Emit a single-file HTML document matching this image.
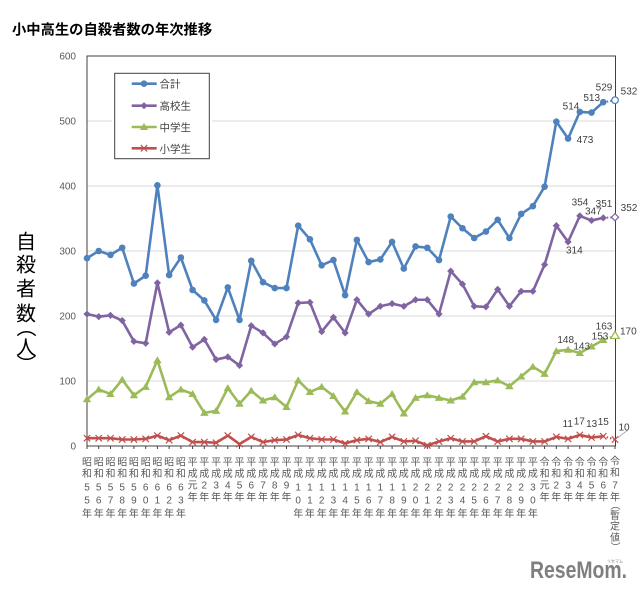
<!DOCTYPE html>
<html><head><meta charset="utf-8">
<style>
html,body{margin:0;padding:0;background:#fff}
#w{position:relative;width:640px;height:593px;overflow:hidden}
svg{display:block}
text{font-family:"Liberation Sans","Noto Sans CJK JP",sans-serif}
.xl{font-size:10px;fill:#595959;text-anchor:middle}
.yl{font-size:10px;fill:#595959;text-anchor:end}
.dl{font-size:10px;fill:#404040;text-anchor:middle}
.vp{position:absolute;writing-mode:vertical-rl;font-family:"Noto Sans CJK JP",sans-serif;text-align:center;white-space:nowrap}
</style></head><body>
<div id="w">
<svg width="640" height="593" viewBox="0 0 640 593" xmlns="http://www.w3.org/2000/svg">
<defs>
<marker id="mb" viewBox="-5 -5 10 10" markerWidth="10" markerHeight="10" refX="0" refY="0" markerUnits="userSpaceOnUse"><circle r="3.3" fill="#4f81bd"/></marker>
<marker id="mp" viewBox="-5 -5 10 10" markerWidth="10" markerHeight="10" refX="0" refY="0" markerUnits="userSpaceOnUse"><path d="M0,-3.6L3.6,0 0,3.6 -3.6,0Z" fill="#8064a2"/></marker>
<marker id="mg" viewBox="-5 -5 10 10" markerWidth="10" markerHeight="10" refX="0" refY="0" markerUnits="userSpaceOnUse"><path d="M0,-4L4.2,3 -4.2,3Z" fill="#9bbb59"/></marker>
<marker id="mr" viewBox="-5 -5 10 10" markerWidth="10" markerHeight="10" refX="0" refY="0" markerUnits="userSpaceOnUse"><path d="M-3.2,-3.2L3.2,3.2M-3.2,3.2L3.2,-3.2" stroke="#c0504d" stroke-width="1.2" fill="none"/></marker>
</defs>

<text x="12" y="34.5" font-size="14.3" font-weight="bold" fill="#000">小中高生の自殺者数の年次推移</text>

<!-- y axis title -->
<text x="26 26 26 26" y="248.6 271.6 295.6 320.6" font-size="20" text-anchor="middle" fill="#000">自殺者数</text>
<text x="26" y="354.3" font-size="20" text-anchor="middle" fill="#000">人</text>

<!-- gridlines -->
<g stroke="#d9d9d9" stroke-width="1">
<line x1="87" y1="121" x2="615.5" y2="121"/>
<line x1="87" y1="186" x2="615.5" y2="186"/>
<line x1="87" y1="251" x2="615.5" y2="251"/>
<line x1="87" y1="316" x2="615.5" y2="316"/>
<line x1="87" y1="381" x2="615.5" y2="381"/>
</g>
<rect x="87" y="56" width="528.5" height="390" fill="none" stroke="#404040" stroke-width="1"/>
<path d="M87,446v3M98.7,446v3M110.5,446v3M122.2,446v3M133.9,446v3M145.7,446v3M157.4,446v3M169.1,446v3M180.9,446v3M192.6,446v3M204.3,446v3M216.1,446v3M227.8,446v3M239.5,446v3M251.3,446v3M263,446v3M274.7,446v3M286.5,446v3M298.2,446v3M309.9,446v3M321.7,446v3M333.4,446v3M345.1,446v3M356.9,446v3M368.6,446v3M380.3,446v3M392.1,446v3M403.8,446v3M415.5,446v3M427.3,446v3M439,446v3M450.7,446v3M462.5,446v3M474.2,446v3M485.9,446v3M497.7,446v3M509.4,446v3M521.1,446v3M532.9,446v3M544.6,446v3M556.3,446v3M568.1,446v3M579.8,446v3M591.5,446v3M603.3,446v3M615,446v3" stroke="#404040" stroke-width="1"/>

<!-- y tick labels -->
<text class="yl" x="76" y="59.6">600</text>
<text class="yl" x="76" y="124.6">500</text>
<text class="yl" x="76" y="189.6">400</text>
<text class="yl" x="76" y="254.6">300</text>
<text class="yl" x="76" y="319.6">200</text>
<text class="yl" x="76" y="384.6">100</text>
<text class="yl" x="76" y="449.6">0</text>

<!-- series -->
<g fill="none" stroke-width="2.6" stroke-linejoin="round">
<polyline stroke="#4f81bd" marker-start="url(#mb)" marker-mid="url(#mb)" marker-end="url(#mb)" points="87,258.15 98.73,251 110.47,254.9 122.2,247.75 133.93,283.5 145.67,275.7 157.4,185.35 169.13,275.05 180.87,257.5 192.6,290 204.33,300.4 216.07,319.9 227.8,287.4 239.53,319.9 251.27,260.75 263,282.2 274.73,288.05 286.47,288.05 298.2,225.65 309.93,239.3 321.67,265.3 333.4,260.1 345.13,295.2 356.87,239.95 368.6,262.05 380.33,259.45 392.07,241.9 403.8,268.55 415.53,246.45 427.27,247.75 439,260.1 450.73,216.55 462.47,228.25 474.2,238 485.93,231.5 497.67,219.8 509.4,238 521.13,213.95 532.87,206.15 544.6,186.65 556.33,121.65 568.07,138.55 579.8,111.9 591.53,112.55 603.27,102.15"/>
<polyline stroke="#8064a2" marker-start="url(#mp)" marker-mid="url(#mp)" marker-end="url(#mp)" points="87,314.05 98.73,316.65 110.47,315.35 122.2,320.55 133.93,341.35 145.67,343.3 157.4,282.85 169.13,332.25 180.87,325.1 192.6,347.2 204.33,339.4 216.07,359.55 227.8,356.95 239.53,365.4 251.27,325.75 263,332.9 274.73,343.95 286.47,336.8 298.2,303 309.93,302.35 321.67,331.6 333.4,317.3 345.13,332.9 356.87,299.75 368.6,314.05 380.33,306.25 392.07,303.65 403.8,306.25 415.53,299.75 427.27,299.75 439,314.05 450.73,271.15 462.47,284.15 474.2,306.25 485.93,306.9 497.67,289.35 509.4,306.25 521.13,291.3 532.87,291.3 544.6,264.65 556.33,225.65 568.07,241.9 579.8,215.9 591.53,220.45 603.27,217.85"/>
<polyline stroke="#9bbb59" marker-start="url(#mg)" marker-mid="url(#mg)" marker-end="url(#mg)" points="87,399.2 98.73,389.45 110.47,394 122.2,379.7 133.93,395.3 145.67,386.85 157.4,360.2 169.13,397.25 180.87,389.45 192.6,394 204.33,412.85 216.07,410.9 227.8,388.15 239.53,403.75 251.27,390.75 263,400.5 274.73,397.25 286.47,407 298.2,380.35 309.93,392.05 321.67,386.85 333.4,395.95 345.13,411.55 356.87,392.05 368.6,401.15 380.33,403.75 392.07,394 403.8,413.5 415.53,397.9 427.27,395.3 439,397.9 450.73,400.5 462.47,396.6 474.2,382.3 485.93,382.3 497.67,380.35 509.4,386.2 521.13,376.45 532.87,366.7 544.6,373.85 556.33,351.1 568.07,349.8 579.8,353.05 591.53,346.55 603.27,340.05"/>
<polyline stroke="#c0504d" marker-start="url(#mr)" marker-mid="url(#mr)" marker-end="url(#mr)" points="87,438.2 98.73,438.2 110.47,438.2 122.2,439.5 133.93,439.5 145.67,438.85 157.4,435.6 169.13,440.15 180.87,435.6 192.6,442.1 204.33,442.1 216.07,442.75 227.8,435.6 239.53,444.05 251.27,436.9 263,442.1 274.73,440.15 286.47,439.5 298.2,434.95 309.93,438.2 321.67,439.5 333.4,439.5 345.13,443.4 356.87,440.15 368.6,438.85 380.33,442.1 392.07,436.9 403.8,441.45 415.53,440.8 427.27,445.35 439,441.45 450.73,438.2 462.47,441.45 474.2,441.45 485.93,436.25 497.67,441.45 509.4,438.85 521.13,438.85 532.87,441.45 544.6,441.45 556.33,436.9 568.07,438.85 579.8,434.95 591.53,437.55 603.27,436.25"/>
</g>
<!-- provisional (dotted) segments -->
<g fill="none" stroke-width="2" stroke-dasharray="1.5 2">
<line x1="603.27" y1="102.15" x2="615" y2="100.2" stroke="#4f81bd"/>
<line x1="603.27" y1="217.85" x2="615" y2="217.2" stroke="#8064a2"/>
<line x1="603.27" y1="340.05" x2="615" y2="335.5" stroke="#9bbb59"/>
<line x1="603.27" y1="436.25" x2="615" y2="439.5" stroke="#c0504d"/>
</g>
<circle cx="615" cy="100.2" r="3.3" fill="#fff" stroke="#4f81bd" stroke-width="1.3"/>
<path d="M615,213.6L618.6,217.2 615,220.8 611.4,217.2Z" fill="#fff" stroke="#8064a2" stroke-width="1.2"/>
<path d="M615,331.3L619.2,338.5 610.8,338.5Z" fill="#fff" stroke="#9bbb59" stroke-width="1.3"/>
<path d="M611.8,436.3L618.2,442.7M611.8,442.7L618.2,436.3" stroke="#c0504d" stroke-width="1.2"/>
<line x1="628" y1="430" x2="618" y2="437.5" stroke="#a6a6a6" stroke-width="0.8"/>

<!-- data labels -->
<text class="dl" x="571" y="109.3">514</text>
<text class="dl" x="585" y="142.9">473</text>
<text class="dl" x="591.7" y="100.9">513</text>
<text class="dl" x="604" y="90.3">529</text>
<text class="dl" x="629" y="94.3">532</text>
<text class="dl" x="580" y="205.3">354</text>
<text class="dl" x="574.3" y="253.6">314</text>
<text class="dl" x="593.3" y="214.3">347</text>
<text class="dl" x="604" y="206.9">351</text>
<text class="dl" x="629" y="210.9">352</text>
<text class="dl" x="565.7" y="342.9">148</text>
<text class="dl" x="581.7" y="349.6">143</text>
<text class="dl" x="600" y="339.3">153</text>
<text class="dl" x="604" y="329.3">163</text>
<text class="dl" x="628.3" y="334.3">170</text>
<text class="dl" x="567.7" y="426.9">11</text>
<text class="dl" x="579.3" y="424.3">17</text>
<text class="dl" x="591.7" y="426.9">13</text>
<text class="dl" x="603.3" y="424.9">15</text>
<text class="dl" x="624" y="430.3">10</text>

<!-- legend -->
<rect x="111.7" y="70.5" width="100.3" height="91" fill="#fff"/>
<rect x="114.7" y="73.3" width="94.6" height="85.4" fill="#fff" stroke="#404040" stroke-width="1"/>
<g stroke-width="2.6">
<line x1="131.7" y1="83.7" x2="156.7" y2="83.7" stroke="#4f81bd"/>
<line x1="131.7" y1="105.7" x2="156.7" y2="105.7" stroke="#8064a2"/>
<line x1="131.7" y1="127" x2="156.7" y2="127" stroke="#9bbb59"/>
<line x1="131.7" y1="148.3" x2="156.7" y2="148.3" stroke="#c0504d"/>
</g>
<circle cx="144" cy="83.7" r="3.3" fill="#4f81bd"/>
<path d="M144,102.1L147.6,105.7 144,109.3 140.4,105.7Z" fill="#8064a2"/>
<path d="M144,123L148.2,130 139.8,130Z" fill="#9bbb59"/>
<path d="M140.8,145.1L147.2,151.5M140.8,151.5L147.2,145.1" stroke="#c0504d" stroke-width="1.2"/>
<g font-size="10.5" fill="#404040">
<text x="159.5" y="87.7">合計</text>
<text x="159.5" y="109.7">高校生</text>
<text x="159.5" y="131">中学生</text>
<text x="159.5" y="152.3">小学生</text>
</g>

<!-- x labels -->
<g class="xl">
<text class="xl" x="87 87 87 87 87" y="465.4 477 490.3 503.6 517">昭和55年</text>
<text class="xl" x="98.7 98.7 98.7 98.7 98.7" y="465.4 477 490.3 503.6 517">昭和56年</text>
<text class="xl" x="110.5 110.5 110.5 110.5 110.5" y="465.4 477 490.3 503.6 517">昭和57年</text>
<text class="xl" x="122.2 122.2 122.2 122.2 122.2" y="465.4 477 490.3 503.6 517">昭和58年</text>
<text class="xl" x="133.9 133.9 133.9 133.9 133.9" y="465.4 477 490.3 503.6 517">昭和59年</text>
<text class="xl" x="145.7 145.7 145.7 145.7 145.7" y="465.4 477 490.3 503.6 517">昭和60年</text>
<text class="xl" x="157.4 157.4 157.4 157.4 157.4" y="465.4 477 490.3 503.6 517">昭和61年</text>
<text class="xl" x="169.1 169.1 169.1 169.1 169.1" y="465.4 477 490.3 503.6 517">昭和62年</text>
<text class="xl" x="180.9 180.9 180.9 180.9 180.9" y="465.4 477 490.3 503.6 517">昭和63年</text>
<text class="xl" x="192.6 192.6 192.6 192.6" y="465.4 477 488.7 500.4">平成元年</text>
<text class="xl" x="204.3 204.3 204.3 204.3" y="465.4 477 488.7 500.4">平成2年</text>
<text class="xl" x="216.1 216.1 216.1 216.1" y="465.4 477 488.7 500.4">平成3年</text>
<text class="xl" x="227.8 227.8 227.8 227.8" y="465.4 477 488.7 500.4">平成4年</text>
<text class="xl" x="239.5 239.5 239.5 239.5" y="465.4 477 488.7 500.4">平成5年</text>
<text class="xl" x="251.3 251.3 251.3 251.3" y="465.4 477 488.7 500.4">平成6年</text>
<text class="xl" x="263 263 263 263" y="465.4 477 488.7 500.4">平成7年</text>
<text class="xl" x="274.7 274.7 274.7 274.7" y="465.4 477 488.7 500.4">平成8年</text>
<text class="xl" x="286.5 286.5 286.5 286.5" y="465.4 477 488.7 500.4">平成9年</text>
<text class="xl" x="298.2 298.2 298.2 298.2 298.2" y="465.4 477 490.3 503.6 517">平成10年</text>
<text class="xl" x="309.9 309.9 309.9 309.9 309.9" y="465.4 477 490.3 503.6 517">平成11年</text>
<text class="xl" x="321.7 321.7 321.7 321.7 321.7" y="465.4 477 490.3 503.6 517">平成12年</text>
<text class="xl" x="333.4 333.4 333.4 333.4 333.4" y="465.4 477 490.3 503.6 517">平成13年</text>
<text class="xl" x="345.1 345.1 345.1 345.1 345.1" y="465.4 477 490.3 503.6 517">平成14年</text>
<text class="xl" x="356.9 356.9 356.9 356.9 356.9" y="465.4 477 490.3 503.6 517">平成15年</text>
<text class="xl" x="368.6 368.6 368.6 368.6 368.6" y="465.4 477 490.3 503.6 517">平成16年</text>
<text class="xl" x="380.3 380.3 380.3 380.3 380.3" y="465.4 477 490.3 503.6 517">平成17年</text>
<text class="xl" x="392.1 392.1 392.1 392.1 392.1" y="465.4 477 490.3 503.6 517">平成18年</text>
<text class="xl" x="403.8 403.8 403.8 403.8 403.8" y="465.4 477 490.3 503.6 517">平成19年</text>
<text class="xl" x="415.5 415.5 415.5 415.5 415.5" y="465.4 477 490.3 503.6 517">平成20年</text>
<text class="xl" x="427.3 427.3 427.3 427.3 427.3" y="465.4 477 490.3 503.6 517">平成21年</text>
<text class="xl" x="439 439 439 439 439" y="465.4 477 490.3 503.6 517">平成22年</text>
<text class="xl" x="450.7 450.7 450.7 450.7 450.7" y="465.4 477 490.3 503.6 517">平成23年</text>
<text class="xl" x="462.5 462.5 462.5 462.5 462.5" y="465.4 477 490.3 503.6 517">平成24年</text>
<text class="xl" x="474.2 474.2 474.2 474.2 474.2" y="465.4 477 490.3 503.6 517">平成25年</text>
<text class="xl" x="485.9 485.9 485.9 485.9 485.9" y="465.4 477 490.3 503.6 517">平成26年</text>
<text class="xl" x="497.7 497.7 497.7 497.7 497.7" y="465.4 477 490.3 503.6 517">平成27年</text>
<text class="xl" x="509.4 509.4 509.4 509.4 509.4" y="465.4 477 490.3 503.6 517">平成28年</text>
<text class="xl" x="521.1 521.1 521.1 521.1 521.1" y="465.4 477 490.3 503.6 517">平成29年</text>
<text class="xl" x="532.9 532.9 532.9 532.9 532.9" y="465.4 477 490.3 503.6 517">平成30年</text>
<text class="xl" x="544.6 544.6 544.6 544.6" y="465.4 477 488.7 500.4">令和元年</text>
<text class="xl" x="556.3 556.3 556.3 556.3" y="465.4 477 488.7 500.4">令和2年</text>
<text class="xl" x="568.1 568.1 568.1 568.1" y="465.4 477 488.7 500.4">令和3年</text>
<text class="xl" x="579.8 579.8 579.8 579.8" y="465.4 477 488.7 500.4">令和4年</text>
<text class="xl" x="591.5 591.5 591.5 591.5" y="465.4 477 488.7 500.4">令和5年</text>
<text class="xl" x="603.3 603.3 603.3 603.3" y="465.4 477 488.7 500.4">令和6年</text>
<text class="xl" x="615 615 615 615" y="464.4 476 488.7 500.4">令和7年</text>
<text class="xl" x="615 615 615" y="519 529.7 541">暫定値</text>
</g>

<!-- logo -->
<text x="530" y="578" font-size="24" font-weight="bold" fill="#7f7f7f" textLength="97" lengthAdjust="spacingAndGlyphs">ReseMom.</text>
<text x="607" y="562.5" font-size="4" fill="#7f7f7f">リセマム</text>
</svg>

<!-- vertical parentheses -->
<div class="vp" style="left:16px;top:317.2px;width:20px;height:20px;font-size:20px;line-height:20px;color:#000">（</div>
<div class="vp" style="left:16px;top:353.5px;width:20px;height:20px;font-size:20px;line-height:20px;color:#000">）</div>
<div class="vp" style="left:610px;top:499.8px;width:10px;height:10px;font-size:10px;line-height:10px;color:#595959">（</div>
<div class="vp" style="left:610px;top:541.9px;width:10px;height:10px;font-size:10px;line-height:10px;color:#595959">）</div>
</div>
</body></html>
